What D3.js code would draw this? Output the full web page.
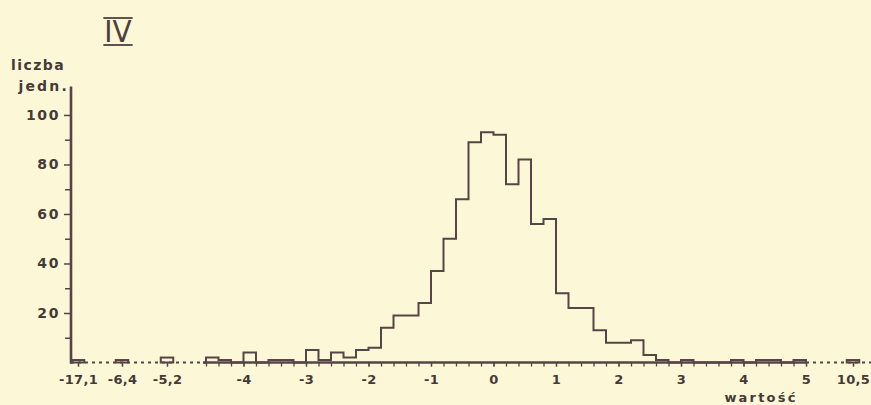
<!DOCTYPE html>
<html>
<head>
<meta charset="utf-8">
<script src="https://cdn.jsdelivr.net/npm/d3@7"></script>
<style>
  html, body { margin: 0; padding: 0; background: #fcf7d6; }
  svg { display: block; }
  text { font-family: "DejaVu Sans", "Liberation Sans", sans-serif; font-weight: bold; fill: #463a38; }
</style>
</head>
<body>
<svg id="chart" width="871" height="405"></svg>
<script>
// ---------- data ----------
const binLeft = [-4.6,-4.4,-4.2,-4.0,-3.8,-3.6,-3.4,-3.2,-3.0,-2.8,-2.6,-2.4,-2.2,-2.0,-1.8,-1.6,
                 -1.4,-1.2,-1.0,-0.8,-0.6,-0.4,-0.2,0.0,0.2,0.4,0.6,0.8,1.0,1.2,1.4,1.6,
                 1.8,2.0,2.2,2.4,2.6,2.8,3.0,3.2,3.4,3.6,3.8,4.0,4.2,4.4,4.6,4.8];
const binCounts = [2,1,0,4,0,1,1,0,5,1,4,2,5,6,14,19,
                   19,24,37,50,66,89,93,92,72,82,56,58,28,22,22,13,
                   8,8,9,3,1,0,1,0,0,0,1,0,1,1,0,1];
const binWidth = 0.2;
const outlierValues = [-17.1, -6.4, -5.2, 10.5];
const outlierCounts = [1, 1, 2, 1];
const xTickValues = [-17.1, -6.4, -5.2, -4, -3, -2, -1, 0, 1, 2, 3, 4, 5, 10.5];
const xTickLabels = ["-17,1", "-6,4", "-5,2", "-4", "-3", "-2", "-1", "0", "1", "2", "3", "4", "5", "10,5"];
const yTickValues = [20, 40, 60, 80, 100];
const yMinorTicks = [10, 30, 50, 70, 90];
const mainDomain = [-4.6, 5.0];
const title = "IV";
const yLabel = ["liczba", "jedn."];
const xLabel = "wartość";

// ---------- layout ----------
const lineCol = "#574446";
const svg = d3.select("#chart");

// broken x axis: piecewise linear scale (outliers compressed)
const x = d3.scaleLinear()
  .domain([-17.1, -6.4, -5.2, -4.6, 5.0, 10.5])
  .range([78, 122, 167, 206, 806, 853]);
const y = d3.scaleLinear().domain([0, 111.5]).range([362.5, 86.5]);

const x0 = 71;       // y-axis position
const base = y(0);

// dotted baseline parts
svg.append("line").attr("x1", x0).attr("x2", x(mainDomain[0]))
  .attr("y1", base).attr("y2", base)
  .attr("stroke", lineCol).attr("stroke-width", 2).attr("stroke-dasharray", "3,4");
svg.append("line").attr("x1", x(mainDomain[1])).attr("x2", 871)
  .attr("y1", base).attr("y2", base)
  .attr("stroke", lineCol).attr("stroke-width", 2).attr("stroke-dasharray", "3,4");
// solid main baseline
svg.append("line").attr("x1", x(mainDomain[0]) - 3).attr("x2", x(mainDomain[1]))
  .attr("y1", base).attr("y2", base)
  .attr("stroke", lineCol).attr("stroke-width", 2.5);

// minor ticks along main axis (bin edges) + outlier ticks
const minorAxis = d3.axisBottom(x)
  .tickValues(binLeft.concat([mainDomain[1]]).concat(outlierValues))
  .tickSize(4).tickFormat("");
const gMinor = svg.append("g").attr("transform", `translate(0,${base})`).call(minorAxis);
gMinor.select(".domain").remove();
gMinor.selectAll(".tick line").attr("stroke", lineCol).attr("stroke-width", 1.3);

// labelled x ticks
const labelMap = new Map(xTickValues.map((v, i) => [v, xTickLabels[i]]));
const xAxis = d3.axisBottom(x).tickValues(xTickValues).tickSize(4).tickPadding(8)
  .tickFormat(d => labelMap.get(d));
const gx = svg.append("g").attr("transform", `translate(0,${base})`).call(xAxis);
gx.select(".domain").remove();
gx.selectAll(".tick line").attr("stroke", lineCol).attr("stroke-width", 1.3);
gx.selectAll(".tick text").attr("font-size", 13).attr("font-family", "DejaVu Sans")
  .attr("font-weight", "bold").attr("fill", "#463a38").attr("letter-spacing", "0.3px");

// y axis
const yAxis = d3.axisLeft(y).tickValues(yTickValues).tickSize(7).tickPadding(4)
  .tickFormat(d3.format("d"));
const gy = svg.append("g").attr("transform", `translate(${x0},0)`).call(yAxis);
gy.select(".domain").remove();
gy.selectAll(".tick line").attr("stroke", lineCol).attr("stroke-width", 1.5);
gy.selectAll(".tick text").attr("font-size", 14).attr("font-family", "DejaVu Sans")
  .attr("font-weight", "bold").attr("fill", "#463a38").attr("letter-spacing", "1.6px");
const gyMinor = svg.append("g").attr("transform", `translate(${x0},0)`)
  .call(d3.axisLeft(y).tickValues(yMinorTicks).tickSize(6).tickFormat(""));
gyMinor.select(".domain").remove();
gyMinor.selectAll(".tick line").attr("stroke", lineCol).attr("stroke-width", 1.5);
svg.append("line").attr("x1", x0).attr("x2", x0)
  .attr("y1", y(111.5)).attr("y2", base + 1.2)
  .attr("stroke", lineCol).attr("stroke-width", 2.6);

// main histogram step outline
const pts = [[binLeft[0], 0]];
binLeft.forEach((b, i) => pts.push([b, binCounts[i]]));
pts.push([mainDomain[1], binCounts[binCounts.length - 1]]);
pts.push([mainDomain[1], 0]);
const stepLine = d3.line().x(d => x(d[0])).y(d => y(d[1])).curve(d3.curveStepAfter);
svg.append("path").attr("d", stepLine(pts))
  .attr("fill", "none").attr("stroke", lineCol).attr("stroke-width", 2)
  .attr("stroke-linejoin", "miter");

// outlier boxes
const bw = x(binWidth) - x(0);
svg.selectAll("rect.out").data(outlierValues).join("rect").attr("class", "out")
  .attr("x", (d) => Math.max(x0, x(d) - bw / 2))
  .attr("width", bw)
  .attr("y", (d, i) => y(outlierCounts[i]))
  .attr("height", (d, i) => base - y(outlierCounts[i]))
  .attr("fill", "none").attr("stroke", lineCol).attr("stroke-width", 2);

// labels
svg.append("text").attr("x", 65).attr("y", 70).attr("text-anchor", "end")
  .attr("font-size", 14).attr("letter-spacing", "1.4px").text(yLabel[0]);
svg.append("text").attr("x", 69).attr("y", 91).attr("text-anchor", "end")
  .attr("font-size", 14).attr("letter-spacing", "2.2px").text(yLabel[1]);
svg.append("text").attr("x", 761).attr("y", 402).attr("text-anchor", "middle")
  .attr("font-size", 13).attr("letter-spacing", "2.2px").text(xLabel);

// title with over- and under-bar
const t = svg.append("text").attr("x", 118).attr("y", 42).attr("text-anchor", "middle")
  .style("font-size", "31px").style("font-weight", "normal")
  .style("font-family", "'Liberation Sans Narrow', 'DejaVu Sans Condensed', 'DejaVu Sans', sans-serif")
  .style("fill", "#4e3f40").text(title);
const bb = t.node().getBBox();
[bb.y + 5, bb.y + bb.height - 4].forEach(yy => {
  svg.append("line").attr("x1", bb.x - 1).attr("x2", bb.x + bb.width + 1)
    .attr("y1", yy).attr("y2", yy).attr("stroke", "#4e3f40").attr("stroke-width", 1.8);
});
</script>
</body>
</html>
